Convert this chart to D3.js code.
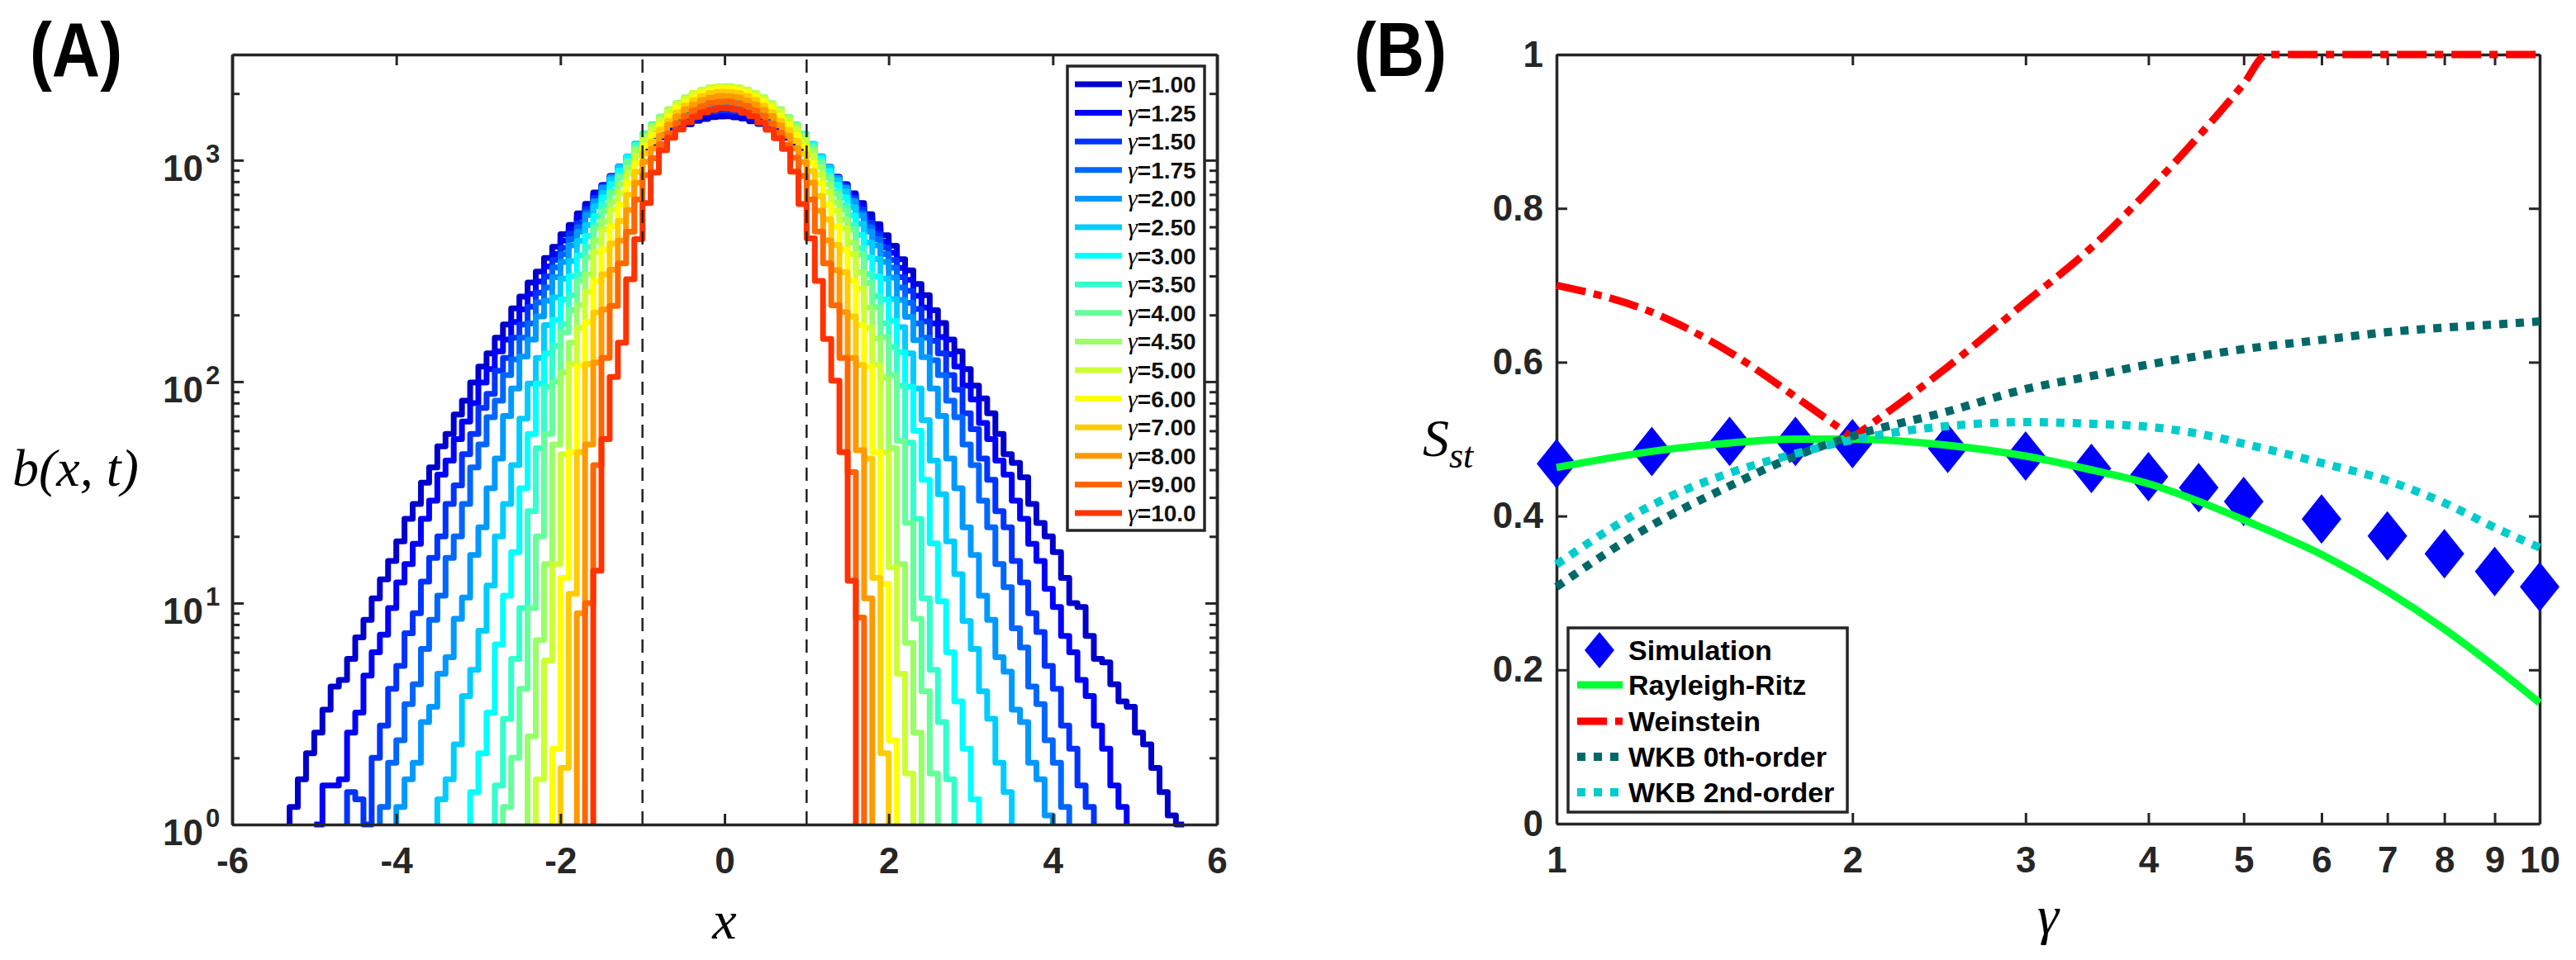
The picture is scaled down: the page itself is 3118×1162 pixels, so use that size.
<!DOCTYPE html>
<html lang="en">
<head>
<meta charset="UTF-8">
<title>b(x,t) histograms and S_st</title>
<script src="https://d3js.org/d3.v7.min.js"></script>
<style>
  body { margin: 0; background: #fff; }
  text { font-family: "Liberation Sans", Arial, Helvetica, sans-serif; }
  .math { font-family: "Liberation Serif", "Times New Roman", serif; font-style: italic; }
</style>
</head>
<body>
<svg id="chart" width="3118" height="1162"></svg>
<script>
// ---------- panel A: histograms b(x,t), bin width 0.1 ----------
const gammas = [1, 1.25, 1.5, 1.75, 2, 2.5, 3, 3.5, 4, 4.5, 5, 6, 7, 8, 9, 10];
const gammaLabels = ["1.00", "1.25", "1.50", "1.75", "2.00", "2.50", "3.00", "3.50",
                     "4.00", "4.50", "5.00", "6.00", "7.00", "8.00", "9.00", "10.0"];
const binWidth = 0.1;
// left edge of the first bin of each histogram
const histStart = [-5.3, -5.0, -4.6, -4.2, -4.0, -3.5, -3.1, -2.8, -2.7, -2.4, -2.3, -2.1, -2.0, -1.8, -1.7, -1.6];

const histG100 = [1.2,1.6,2.1,2.6,3.3,4.2,4.5,5.6,7.0,8.4, 10.5,12.8,15.5,19,24,28,35,41,51,58,
  71,82,99,117,134,158,181,214,242,280, 314,362,406,463,510,575,635,714,772,846,
  912,998,1060,1118,1185,1268,1333,1404,1452,1507, 1535,1566,1575,
  1580,1560,1541,1500,1458,1397,1340,1262,1192,1112, 1065,992,918,840,779,708,641,570,515,458,
  411,357,318,276,246,210,184,155,137,114, 96,84,72,58,47,43,37,28,23,20,
  17,13,10,9.6,7.1,5.6,5.4,4.3,3.6,3.4, 2.6,2.3,1.8,1.4,1.1,1.0];
const histG125 = [1.0,1.5,1.5,1.6,2.6,3.2,4.7,6.0,7.2,9.5, 12.4,15,18.5,24,29,38,44,55,66,80,
  99,114,137,155,186,212,249,283,331,377, 433,486,553,617,700,771,848,920,1010,1096,
  1165,1238,1322,1383,1455,1505,1552,1583,1610,1620,
  1624,1605,1588,1546,1510,1449,1390,1315,1245,1158, 1102,1004,926,842,777,695,622,547,491,429,
  382,326,288,244,216,183,159,133,117,96, 83,65,55,44,38,29,24,18.5,15.5,11.6,
  9.6,7.1,6.0,4.5,3.8,2.8,2.2,1.5,1.2];
const histG150 = [1.4,1.3,1.0,2.0,2.8,4.1,5.2,7.3,9.0,12.5, 16,20,28,34,47,58,76,88,112,128,
  158,181,218,252,298,355,402,466,520,600, 676,762,835,928,1010,1125,1196,1290,1360,1438,
  1497,1565,1600,1645,1660,1677,
  1681,1660,1644,1600,1563,1500,1438,1362,1288,1199, 1122,1013,926,834,763,676,600,522,464,403,
  354,296,257,213,187,153,134,107,92,72, 61,45,36,26,22,15.5,12.4,9.0,7.4,5.2,
  4.1,2.8,2.2,1.5,1.2];
const histG175 = [1.2,1.9,2.4,3.5,4.3,6.2,8.4,10.8,16,20, 28,41,52,69,82,107,126,158,183,228,
  266,328,376,440,498,580,655,750,826,928, 1020,1146,1243,1334,1410,1490,1560,1612,1665,1695,
  1724,1735,
  1740,1720,1700,1657,1617,1553,1489,1410,1333,1244, 1142,1023,926,827,749,658,578,498,440,377,
  327,266,227,183,158,125,107,82,69,52, 42,29,22,15,11.8,7.7,6.3,4.2,3.5,2.4,
  1.9,1.2];
const histG200 = [1.2,1.6,1.9,2.9,3.4,4.8,5.7,8.5,10.6,16.5, 22,33,45,70,93,130,155,197,232,296,
  347,412,475,565,650,752,840,938,1035,1170, 1275,1375,1455,1545,1615,1688,1730,1778,1800,1818,
  1822,1801,1776,1731,1686,1615,1545,1456,1374,1276, 1166,1039,936,833,751,652,563,476,412,347,
  295,234,196,154,129,93,70,45,33,22, 16.5,10.8,8.4,5.7,4.9,3.3,2.9,1.9,1.6,1.1];
const histG250 = [1.3,1.6,2.3,3.8,5.0,7.5,12,20,28,42, 68,98,128,180,240,292,350,432,509,620,
  712,820,930,1040,1190,1305,1420,1505,1595,1690, 1750,1815,1855,1885,1903,
  1907,1886,1860,1808,1757,1680,1603,1507,1416,1309, 1186,1042,926,812,722,614,516,424,358,292,
  236,176,134,93,67,44,31,19,13.5,8.3, 6.2,4.0,3.0,1.9,1.4];
const histG300 = [1.4,2.1,3.2,6.5,10.8,17,33,58,98,134, 190,235,300,372,455,560,680,780,898,1032,
  1170,1320,1432,1545,1635,1745,1815,1880,1940,1968, 1990,
  1997,1970,1939,1881,1823,1735,1644,1535,1432,1315, 1178,1020,894,773,679,563,459,364,299,235,
  188,136,95,60,36,18.6,10.2,6.0,3.6,2.2, 1.3];
const histG350 = [1.5,3.0,5.6,9.5,26,50,95,145,182,245, 305,405,508,628,725,856,990,1170,1315,1455,
  1575,1680,1790,1880,1960,2018,2070,2085,
  2092,2062,2026,1960,1887,1788,1690,1567,1452,1318, 1167,992,854,725,625,510,401,306,243,183,
  143,96,53,24,10.5,5.0,2.9,1.6];
const histG400 = [1.2,2.0,4.1,9.5,20,58,100,167,210,285, 365,495,590,712,840,985,1140,1305,1430,1570,
  1690,1812,1905,2005,2060,2110,2130,
  2136,2110,2068,1997,1913,1804,1697,1564,1438,1294, 1138,974,835,705,599,487,375,279,217,159,
  107,54,23,8.5,4.0,1.7];
const histG450 = [2.5,6.8,15,52,110,150,222,305,432,530, 650,780,925,1112,1280,1430,1560,1700,1812,1925,
  2010,2080,2138,2155,
  2161,2130,2087,2011,1926,1813,1697,1560,1429,1282, 1112,930,779,643,540,424,312,216,157,104,
  50,15,6.6,2.6];
const histG500 = [1.6,5.5,15,47,120,175,255,385,488,598, 712,870,1050,1228,1385,1520,1668,1795,1900,2010,
  2076,2130,2160,
  2162,2130,2083,2001,1908,1788,1666,1521,1383,1230, 1050,864,719,590,493,377,263,175,119,48,
  14.5,4.8,1.7];
const histG600 = [2.2,13,48,118,186,285,395,505,628,790, 970,1160,1300,1455,1590,1730,1840,1950,2025,2075,
  2112,
  2106,2083,2025,1948,1842,1729,1589,1455,1300,1159, 974,788,628,504,395,285,180,117,48,12.2,2.4];
const histG700 = [1.8,11,48,120,205,305,420,532,698,885, 1075,1215,1372,1505,1640,1770,1868,1950,2012,2040,
  2034,2012,1951,1874,1763,1647,1507,1371,1222,1069, 894,689,540,414,312,197,119,45,13,2.1];
const histG800 = [9,52,122,212,320,433,595,790,985,1130, 1290,1445,1575,1695,1782,1865,1915,1948,
  1942,1922,1859,1789,1687,1581,1436,1291,1132,980, 791,592,434,319,206,128,49,10.5];
const histG900 = [10,42,128,220,342,475,665,855,1020,1180, 1325,1470,1585,1678,1750,1815,1835,
  1840,1808,1757,1672,1584,1463,1333,1172,1026,848, 664,476,342,221,128,39,8.6];
const histG1000 = [14,55,105,150,290,440,640,880,1110,1262, 1375,1482,1570,1645,1688,1720,
  1716,1692,1638,1577,1476,1374,1256,1125,888,634, 444,285,156,101,48,12.6];

const histograms = [histG100, histG125, histG150, histG175, histG200, histG250, histG300, histG350,
                    histG400, histG450, histG500, histG600, histG700, histG800, histG900, histG1000];

const xTicksA = [-6, -4, -2, 0, 2, 4, 6];
const yMajorA = [1, 10, 100, 1000];
const yMinorA = [2, 3, 4, 5, 6, 7, 8, 9, 20, 30, 40, 50, 60, 70, 80, 90,
                 200, 300, 400, 500, 600, 700, 800, 900, 2000];
const markerLines = [-1, 1];

// ---------- panel B: S_st against gamma ----------
const simGamma = [1, 1.25, 1.5, 1.75, 2, 2.5, 3, 3.5, 4, 4.5, 5, 6, 7, 8, 9, 10];
const simS = [0.468, 0.484, 0.497, 0.497, 0.494, 0.488, 0.478, 0.462, 0.451, 0.437, 0.419, 0.396, 0.374, 0.351, 0.328, 0.308];
const theoryGamma = [1, 1.25, 1.5, 1.75, 2, 2.5, 3, 3.5, 4, 4.5, 5, 6, 7, 8, 9, 10];
const rayleighRitz = [0.463, 0.484, 0.495, 0.500, 0.500, 0.492, 0.478, 0.460, 0.442, 0.419, 0.395, 0.350, 0.302, 0.253, 0.204, 0.157];
const wkb0 = [0.308, 0.388, 0.439, 0.478, 0.504, 0.536, 0.565, 0.582, 0.597, 0.608, 0.617, 0.629, 0.639, 0.645, 0.649, 0.653];
const wkb2 = [0.337, 0.414, 0.456, 0.481, 0.499, 0.517, 0.522, 0.520, 0.516, 0.507, 0.494, 0.469, 0.446, 0.417, 0.385, 0.359];
const weinsteinGamma = [1, 1.25, 1.5, 1.75, 2, 2.5, 3, 3.5, 4, 4.5, 5, 5.28, 6, 7, 8, 9, 10];
const weinstein = [0.700, 0.665, 0.613, 0.555, 0.502, 0.594, 0.678, 0.749, 0.823, 0.894, 0.962, 1, 1, 1, 1, 1, 1];

const xTicksB = [1, 2, 3, 4, 5, 6, 7, 8, 9, 10];
const yTicksB = [0, 0.2, 0.4, 0.6, 0.8, 1];
const legendB = ["Simulation", "Rayleigh-Ritz", "Weinstein", "WKB 0th-order", "WKB 2nd-order"];

// ---------- drawing ----------
const svg = d3.select("#chart");
const axisColor = "#262626";

// jet-like colour per curve
const jet = (p) => {
  const c = (v) => Math.max(0, Math.min(1, v));
  const r = c(Math.min(4 * p - 1.5, -4 * p + 4.5));
  const g = c(Math.min(4 * p - 0.5, -4 * p + 3.5));
  const b = c(Math.min(4 * p + 0.5, -4 * p + 2.5));
  return d3.rgb(r * 255, g * 255, b * 255).formatHex();
};
const curveColor = (i) => jet(0.075 + 0.05 * i);

function styleAxis(g, fontSize) {
  g.selectAll("path.domain").attr("stroke", axisColor).attr("stroke-width", 3.5);
  g.selectAll(".tick line").attr("stroke", axisColor).attr("stroke-width", 3);
  g.selectAll(".tick text").attr("fill", axisColor)
    .style("font-family", "'Liberation Sans', Arial, sans-serif")
    .style("font-weight", "bold").style("font-size", fontSize + "px");
}

// panel A scales
const xA = d3.scaleLinear().domain([-6, 6]).range([281, 1473]);
const yA = d3.scaleLog().domain([1, 3000]).range([998, 66]);

const gA = svg.append("g");

// histograms (stairs)
const stairs = d3.line().x(d => xA(d.x)).y(d => yA(d.y)).curve(d3.curveStepAfter);
histograms.forEach((vals, i) => {
  const x0 = histStart[i];
  const pts = [{ x: x0, y: 1 }];
  vals.forEach((v, k) => pts.push({ x: x0 + k * binWidth, y: v }));
  pts.push({ x: x0 + vals.length * binWidth, y: 1 });
  gA.append("path")
    .attr("d", stairs(pts))
    .attr("fill", "none")
    .attr("stroke", curveColor(i))
    .attr("stroke-width", 7)
    .attr("stroke-linejoin", "round");
});

// dashed verticals at x = -1, 1
markerLines.forEach(m => {
  gA.append("line")
    .attr("x1", xA(m)).attr("x2", xA(m))
    .attr("y1", yA(1)).attr("y2", yA(3000))
    .attr("stroke", "#222").attr("stroke-width", 2.5)
    .attr("stroke-dasharray", "16,10");
});

// axes A
gA.append("g").attr("transform", "translate(0,998)")
  .call(d3.axisBottom(xA).tickValues(xTicksA).tickFormat(d => String(d))
    .tickSize(-13).tickSizeOuter(0).tickPadding(28))
  .call(g => styleAxis(g, 44));
gA.append("g").attr("transform", "translate(0,66)")
  .call(d3.axisTop(xA).tickValues(xTicksA).tickFormat("").tickSize(-13).tickSizeOuter(0))
  .call(g => styleAxis(g, 44));
[[d3.axisLeft, 281], [d3.axisRight, 1473]].forEach(([ax, xp]) => {
  gA.append("g").attr("transform", `translate(${xp},0)`)
    .call(ax(yA).tickValues(yMajorA).tickFormat("").tickSize(-14).tickSizeOuter(0))
    .call(g => styleAxis(g, 44));
  gA.append("g").attr("transform", `translate(${xp},0)`)
    .call(ax(yA).tickValues(yMinorA).tickFormat("").tickSize(-9).tickSizeOuter(0))
    .call(g => styleAxis(g, 44));
});
// y tick labels 10^k
const yLab = gA.append("g").attr("fill", axisColor).style("font-weight", "bold");
yMajorA.forEach(v => {
  const y = yA(v);
  yLab.append("text").attr("x", 246).attr("y", y + 25).attr("text-anchor", "end")
    .style("font-size", "44px").text("10");
  yLab.append("text").attr("x", 249).attr("y", y + 3)
    .style("font-size", "31px").text(String(Math.round(Math.log10(v))));
});

// legend A
const legA = gA.append("g");
legA.append("rect").attr("x", 1292).attr("y", 80).attr("width", 166).attr("height", 562)
  .attr("fill", "#fff").attr("stroke", axisColor).attr("stroke-width", 3.5);
gammaLabels.forEach((lab, i) => {
  const y = 102 + i * 34.6;
  legA.append("line").attr("x1", 1301).attr("x2", 1358).attr("y1", y).attr("y2", y)
    .attr("stroke", curveColor(i)).attr("stroke-width", 7);
  const t = legA.append("text").attr("x", 1365).attr("y", y + 10).style("font-size", "28px");
  t.append("tspan").attr("class", "math").style("font-size", "30px").text("γ");
  t.append("tspan").style("font-weight", "bold").attr("fill", "#111").text("=" + lab);
});

// labels A
svg.append("text").attr("class", "math").attr("x", xA(0)).attr("y", 1136)
  .attr("text-anchor", "middle").style("font-size", "66px").text("x");
svg.append("text").attr("class", "math").attr("x", 15).attr("y", 588)
  .style("font-size", "64px").text("b(x, t)");
svg.append("text").attr("x", 36).attr("y", 92).style("font-weight", "bold")
  .style("font-size", "92px").attr("textLength", 112).attr("lengthAdjust", "spacingAndGlyphs").text("(A)");

// panel B scales
const xB = d3.scaleLog().domain([1, 10]).range([1884, 3074]);
const yB = d3.scaleLinear().domain([0, 1]).range([997, 66]);
const gB = svg.append("g");

gB.append("g").attr("transform", "translate(0,997)")
  .call(d3.axisBottom(xB).tickValues(xTicksB).tickFormat(d => String(d))
    .tickSize(-13).tickSizeOuter(0).tickPadding(28))
  .call(g => styleAxis(g, 44));
gB.append("g").attr("transform", "translate(0,66)")
  .call(d3.axisTop(xB).tickValues(xTicksB).tickFormat("").tickSize(-13).tickSizeOuter(0))
  .call(g => styleAxis(g, 44));
gB.append("g").attr("transform", "translate(1884,0)")
  .call(d3.axisLeft(yB).tickValues(yTicksB).tickFormat(d => (d === 0 || d === 1) ? String(d) : d.toFixed(1))
    .tickSize(-13).tickSizeOuter(0).tickPadding(16))
  .call(g => styleAxis(g, 44));
gB.append("g").attr("transform", "translate(3074,0)")
  .call(d3.axisRight(yB).tickValues(yTicksB).tickFormat("").tickSize(-13).tickSizeOuter(0))
  .call(g => styleAxis(g, 44));

const diamond = (cx, cy, w, h) => `M${cx},${cy - h / 2}L${cx + w / 2},${cy}L${cx},${cy + h / 2}L${cx - w / 2},${cy}Z`;

// simulation diamonds
gB.selectAll("path.sim").data(simGamma).enter().append("path")
  .attr("class", "sim")
  .attr("d", (d, i) => diamond(xB(d), yB(simS[i]), 48, 60))
  .attr("fill", "#0000ff");

const lineB = d3.line().x(d => xB(d[0])).y(d => yB(d[1])).curve(d3.curveMonotoneX);
const zip = (xs, ys) => xs.map((x, i) => [x, ys[i]]);
const styles = {
  rr: { stroke: "#00ff33", width: 9, dash: null },
  we: { stroke: "#ff0000", width: 9, dash: "36,10,10,10" },
  w0: { stroke: "#006868", width: 10, dash: "10,10" },
  w2: { stroke: "#00cccc", width: 10, dash: "10,10" }
};
const drawLine = (pts, s) => gB.append("path").attr("d", lineB(pts)).attr("fill", "none")
  .attr("stroke", s.stroke).attr("stroke-width", s.width).attr("stroke-dasharray", s.dash);

drawLine(zip(theoryGamma, rayleighRitz), styles.rr);
const wPts = zip(weinsteinGamma, weinstein);
const wIdx = weinsteinGamma.indexOf(2);
drawLine(wPts.slice(0, wIdx + 1).concat(), styles.we);
gB.append("path").attr("d", d3.line().x(d => xB(d[0])).y(d => yB(d[1])).curve(d3.curveMonotoneX)(wPts.slice(wIdx)))
  .attr("fill", "none").attr("stroke", styles.we.stroke).attr("stroke-width", styles.we.width)
  .attr("stroke-dasharray", styles.we.dash).attr("stroke-dashoffset", 14);
drawLine(zip(theoryGamma, wkb0), styles.w0);
drawLine(zip(theoryGamma, wkb2), styles.w2);

// legend B
const legB = gB.append("g");
legB.append("rect").attr("x", 1898).attr("y", 760).attr("width", 338).attr("height", 223)
  .attr("fill", "#fff").attr("stroke", axisColor).attr("stroke-width", 3.5);
const rowY = [787, 829, 873, 916, 959];
legB.append("path").attr("d", diamond(1936, rowY[0], 36, 44)).attr("fill", "#0000ff");
[styles.rr, styles.we, styles.w0, styles.w2].forEach((s, i) => {
  legB.append("line").attr("x1", 1909).attr("x2", 1964).attr("y1", rowY[i + 1]).attr("y2", rowY[i + 1])
    .attr("stroke", s.stroke).attr("stroke-width", s.width).attr("stroke-dasharray", s.dash);
});
legendB.forEach((lab, i) => {
  legB.append("text").attr("x", 1971).attr("y", rowY[i] + 12)
    .style("font-weight", "bold").style("font-size", "34px").attr("fill", "#000").text(lab);
});

// labels B
svg.append("text").attr("class", "math").attr("x", (1884 + 3074) / 2).attr("y", 1130)
  .attr("text-anchor", "middle").style("font-size", "66px").text("γ");
const sLab = svg.append("text").attr("class", "math").attr("x", 1722).attr("y", 552).style("font-size", "64px");
sLab.append("tspan").text("S");
sLab.append("tspan").attr("dy", 14).style("font-size", "44px").text("st");
svg.append("text").attr("x", 1639).attr("y", 92).style("font-weight", "bold")
  .style("font-size", "92px").attr("textLength", 112).attr("lengthAdjust", "spacingAndGlyphs").text("(B)");
</script>
</body>
</html>
